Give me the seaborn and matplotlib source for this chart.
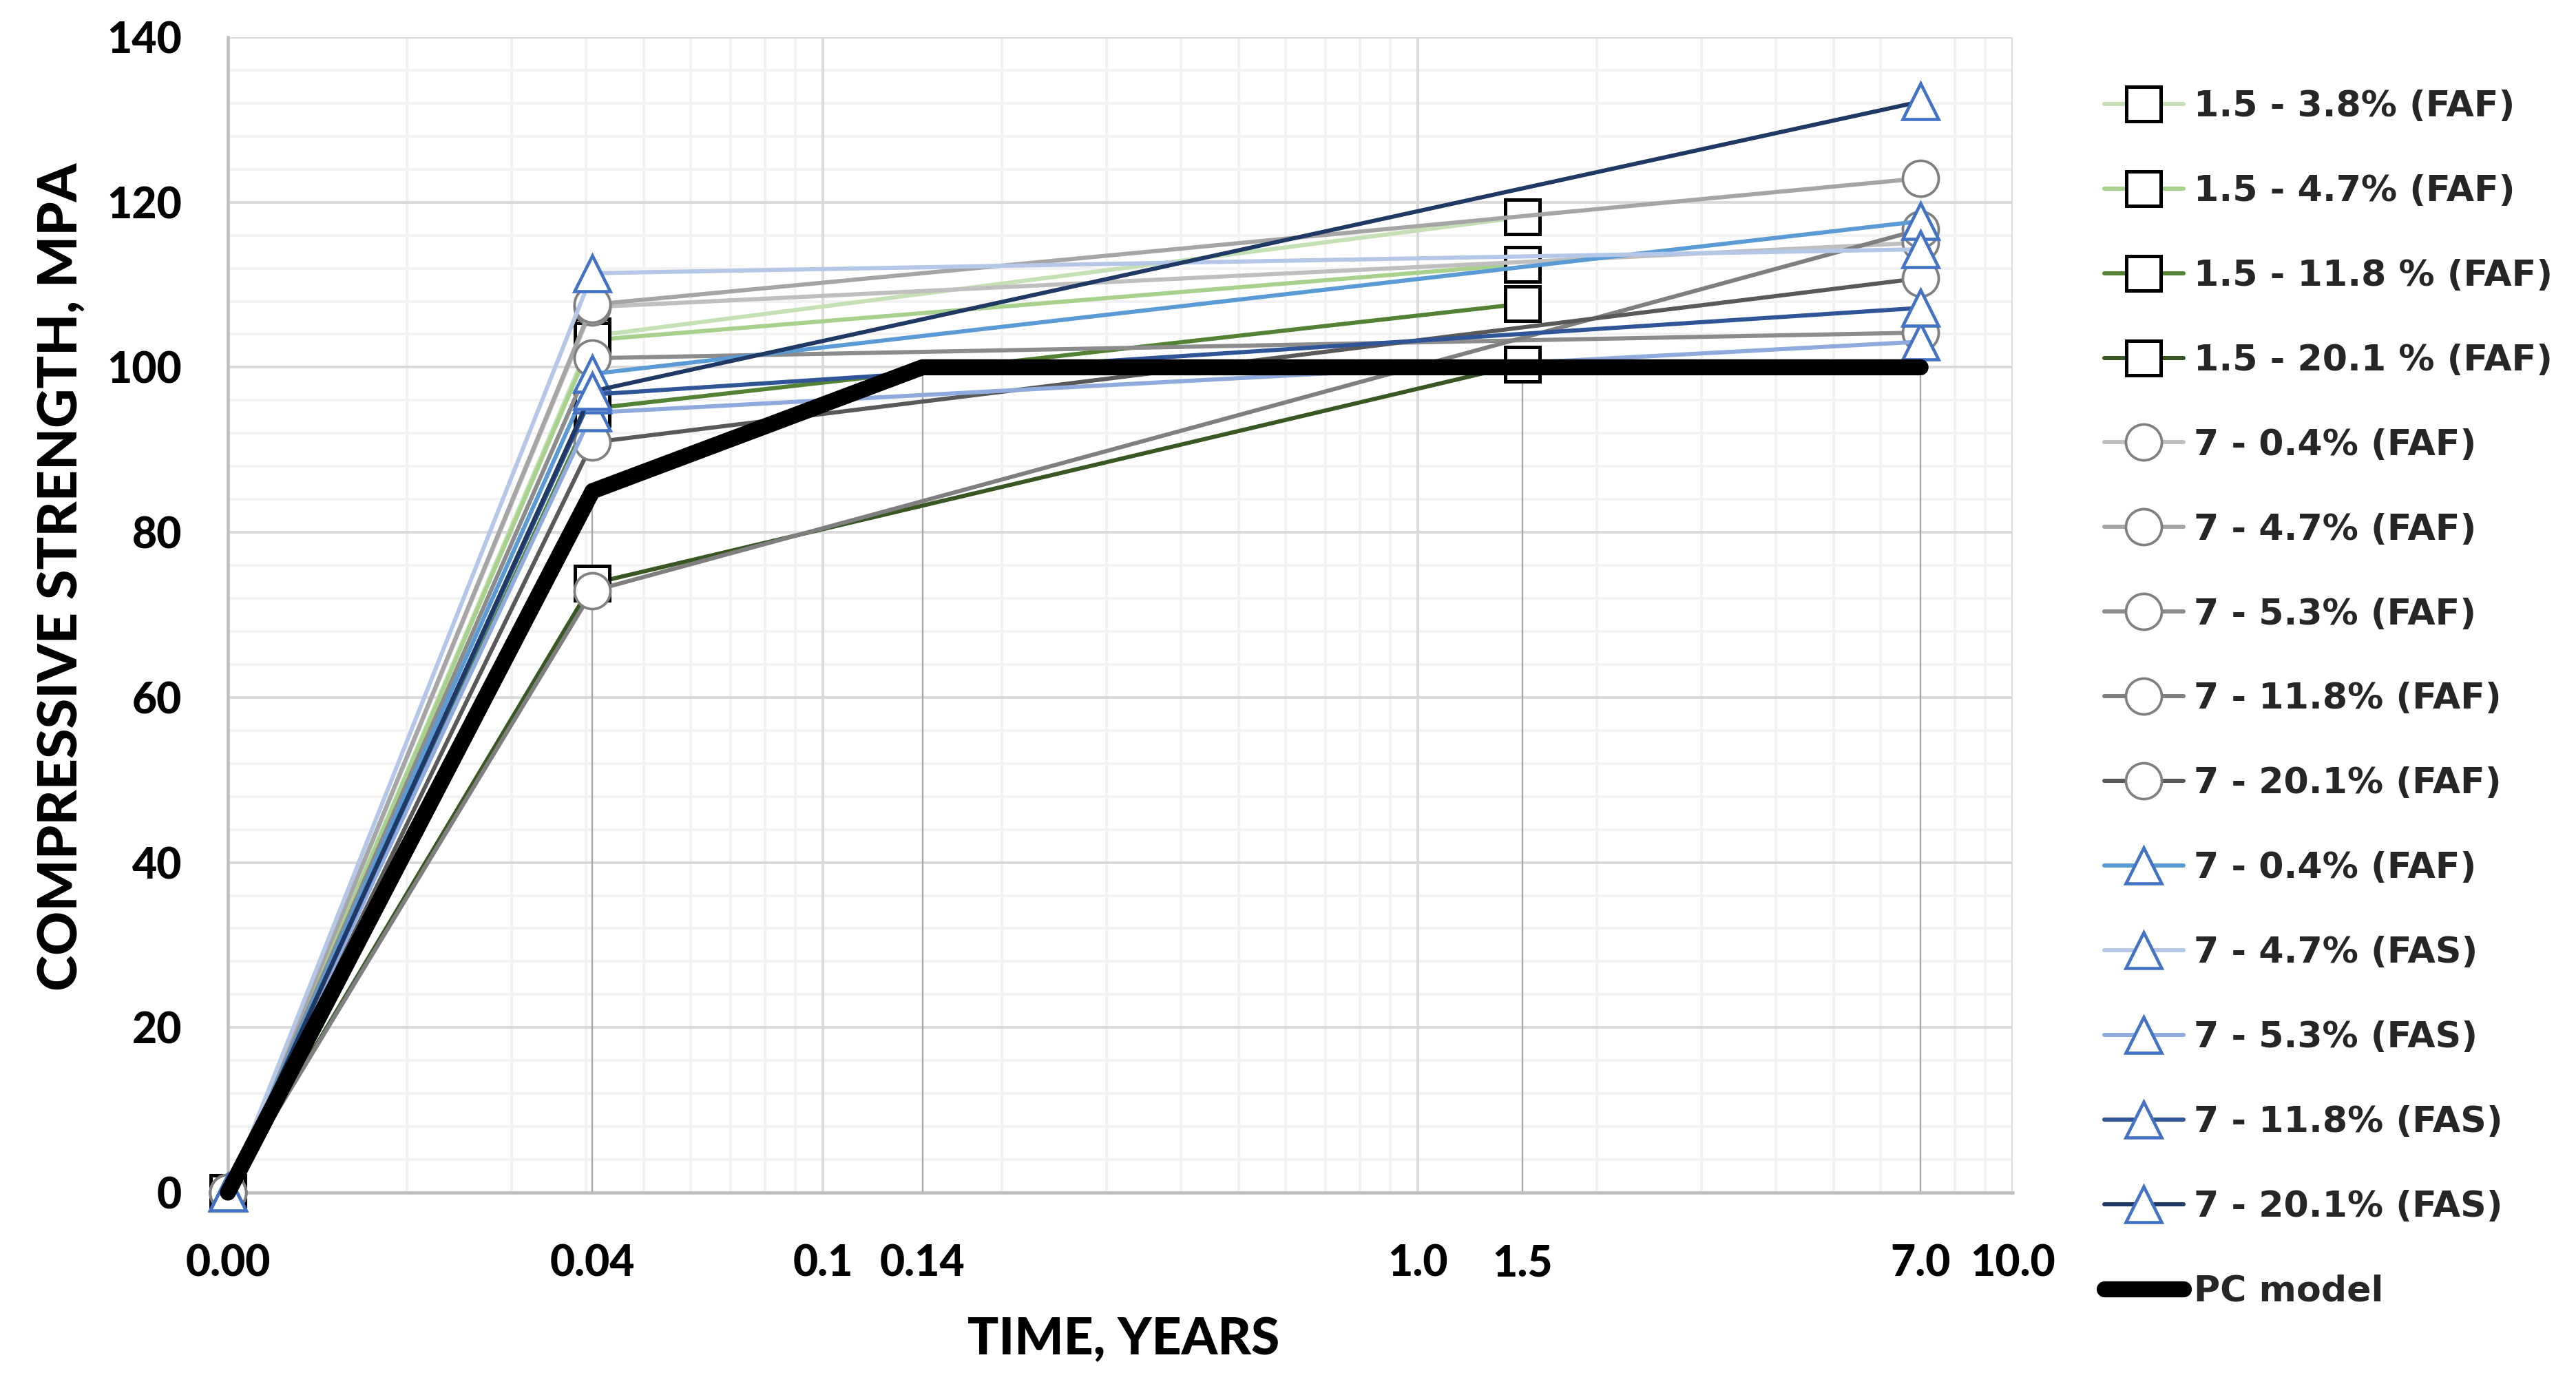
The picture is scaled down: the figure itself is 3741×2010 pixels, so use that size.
import numpy as np
import pandas as pd
import matplotlib
matplotlib.use("Agg")
import matplotlib.pyplot as plt
import seaborn as sns
from matplotlib.ticker import FixedLocator, FixedFormatter, LogLocator, MultipleLocator, NullFormatter

# ---------------- data ----------------
time_15 = [0.01, 0.041, 1.5]          # years (first point drawn at axis origin, labelled 0.00)
time_7 = [0.01, 0.041, 7.0]
time_pc = [0.01, 0.041, 0.147, 1.5, 7.0]

series_names = [
    "1.5 - 3.8% (FAF)", "1.5 - 4.7% (FAF)", "1.5 - 11.8 % (FAF)", "1.5 - 20.1 % (FAF)",
    "7 - 0.4% (FAF)", "7 - 4.7% (FAF)", "7 - 5.3% (FAF)", "7 - 11.8% (FAF)", "7 - 20.1% (FAF)",
    "7 - 0.4% (FAF)", "7 - 4.7% (FAS)", "7 - 5.3% (FAS)", "7 - 11.8% (FAS)", "7 - 20.1% (FAS)",
]
series_values = [
    [0, 103.8, 118.2],
    [0, 103.3, 112.5],
    [0, 95.0, 107.7],
    [0, 73.8, 100.4],
    [0, 107.3, 115.1],
    [0, 107.6, 122.9],
    [0, 101.1, 104.2],
    [0, 72.9, 116.7],
    [0, 90.9, 110.8],
    [0, 99.2, 117.7],
    [0, 111.4, 114.3],
    [0, 94.5, 103.1],
    [0, 96.7, 107.2],
    [0, 97.1, 132.2],
]
series_times = [time_15] * 4 + [time_7] * 10
pc_name = "PC model"
pc_values = [0, 85, 100, 100, 100]

x_tick_pos = [0.01, 0.041, 0.1, 0.147, 1.0, 1.5, 7.0, 10.0]
x_tick_labels = ["0.00", "0.04", "0.1", "0.14", "1.0", "1.5", "7.0", "10.0"]
decades = [0.01, 0.1, 1.0, 10.0]
y_ticks = [0, 20, 40, 60, 80, 100, 120, 140]

# ---------------- styles ----------------
line_colors = [
    "#c5e0b4", "#a9d18e", "#548235", "#385723",
    "#bfbfbf", "#a5a5a5", "#8c8c8c", "#7f7f7f", "#595959",
    "#5b9bd5", "#b4c7e7", "#8faadc", "#2f5597", "#1f3864",
]
markers = ["s"] * 4 + ["o"] * 5 + ["^"] * 5
marker_edge = ["#000000"] * 4 + ["#808080"] * 5 + ["#4472c4"] * 5
marker_size = [12] * 4 + [12.5] * 5 + [12.5] * 5
marker_ew = [1.2] * 4 + [0.9] * 5 + [1.1] * 5

W, H, DPI = 3741, 2010, 300
sns.set_style("white")
plt.rcParams["font.family"] = ["Lato", "DejaVu Sans"]

fig = plt.figure(figsize=(W / DPI, H / DPI), dpi=DPI)
ax = fig.add_axes([331 / W, 1 - 1732 / H, (2923 - 331) / W, (1732 - 54) / H])

for i, (name, t, v) in enumerate(zip(series_names, series_times, series_values)):
    df = pd.DataFrame({"time": t, "strength": v})
    sns.lineplot(data=df, x="time", y="strength", ax=ax, estimator=None, sort=False,
                 color=line_colors[i], linewidth=1.45, marker=markers[i],
                 markersize=marker_size[i], markerfacecolor="white",
                 markeredgecolor=marker_edge[i], markeredgewidth=marker_ew[i],
                 label=name, clip_on=False, zorder=3 + i,
                 solid_capstyle="round", solid_joinstyle="round")

df_pc = pd.DataFrame({"time": time_pc, "strength": pc_values})
sns.lineplot(data=df_pc, x="time", y="strength", ax=ax, estimator=None, sort=False,
             color="black", linewidth=5.6, label=pc_name, zorder=3 + len(series_names),
             solid_capstyle="round", solid_joinstyle="round", clip_on=False)

# drop lines from the PC model points
ax.vlines(time_pc[1:], 0, pc_values[1:], colors="#a6a6a6", linewidth=0.55, zorder=1.5)

ax.set_xscale("log")
ax.set_xlim(0.01, 10)
ax.set_ylim(0, 140)

# grids
ax.xaxis.set_minor_locator(LogLocator(base=10, subs=np.arange(2, 10)))
ax.xaxis.set_minor_formatter(NullFormatter())
ax.yaxis.set_minor_locator(MultipleLocator(4))
ax.grid(which="minor", axis="both", color="#f2f2f2", linewidth=0.9, zorder=0.5)
ax.grid(which="major", axis="y", color="#d9d9d9", linewidth=0.9, zorder=0.6)
ax.grid(which="major", axis="x", visible=False)
for d in decades:
    ax.axvline(d, color="#d9d9d9", linewidth=0.9, zorder=0.6)
ax.set_axisbelow(True)

ax.xaxis.set_major_locator(FixedLocator(x_tick_pos))
ax.xaxis.set_major_formatter(FixedFormatter(x_tick_labels))
ax.yaxis.set_major_locator(FixedLocator(y_ticks))

ax.tick_params(axis="x", which="major", direction="out", length=6.5, width=0.6,
               color="#a6a6a6", pad=11.5, labelsize=15)
ax.tick_params(axis="y", which="major", direction="out", length=4.6, width=0.9,
               color="#d9d9d9", pad=11.5, labelsize=15)
ax.tick_params(which="minor", length=0)
for lab in ax.get_xticklabels() + ax.get_yticklabels():
    lab.set_fontweight(900)
    lab.set_color("black")

for s in ["top", "right"]:
    ax.spines[s].set_visible(False)
ax.spines["left"].set_color("#bfbfbf")
ax.spines["left"].set_linewidth(1.1)
ax.spines["bottom"].set_color("#bfbfbf")
ax.spines["bottom"].set_linewidth(1.1)

ax.set_xlabel("TIME, YEARS", fontsize=18, fontweight=900, color="black")
ax.set_ylabel("COMPRESSIVE STRENGTH, MPA", fontsize=19, fontweight=900, color="black")
ax.xaxis.label.set_va("center")
ax.yaxis.label.set_va("center")
ax.xaxis.set_label_coords(0.5016, -0.127)
ax.yaxis.set_label_coords(-0.0934, 0.533)

handles, labels = ax.get_legend_handles_labels()
if ax.get_legend() is not None:
    ax.get_legend().remove()
fig.legend(handles, labels, loc="upper left", bbox_to_anchor=(3056 / W, 1 - 130 / H),
           frameon=False, borderpad=0, borderaxespad=0, handlelength=2.2,
           handletextpad=0.3, labelspacing=1.4, markerscale=1.0,
           prop={"family": "DejaVu Sans", "weight": "bold", "size": 12.5})

fig.savefig("out.png", dpi=DPI)
